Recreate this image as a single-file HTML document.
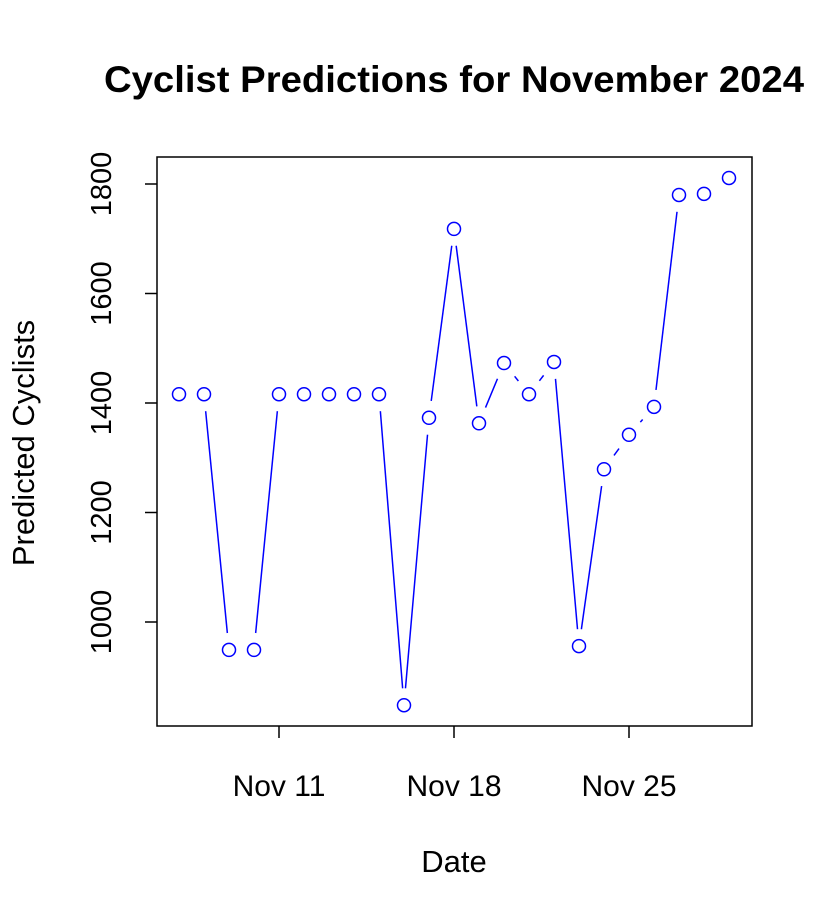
<!DOCTYPE html>
<html><head><meta charset="utf-8"><style>
html,body{margin:0;padding:0;background:#fff;}
svg{display:block;font-family:"Liberation Sans",Arial,sans-serif;}
</style></head><body>
<svg id="chart" width="832" height="922" viewBox="0 0 832 922">
<text x="454" y="92" text-anchor="middle" font-size="37" font-weight="bold" textLength="700" lengthAdjust="spacingAndGlyphs">Cyclist Predictions for November 2024</text>
<rect x="157" y="157" width="595" height="569" fill="none" stroke="#000" stroke-width="1.5"/>
<text x="454" y="872" text-anchor="middle" font-size="31">Date</text>
<text transform="translate(34,443) rotate(-90)" text-anchor="middle" font-size="31">Predicted Cyclists</text>
<g id="axes"></g>
<g id="lines"></g>
<g id="points"></g>
</svg>
<script>
const days = [7,8,9,10,11,12,13,14,15,16,17,18,19,20,21,22,23,24,25,26,27,28,29];
const values = [1416,1416,949,949,1416,1416,1416,1416,1416,848,1373,1718,1363,1473,1416,1475,956,1279,1342,1393,1780,1782,1811];
const yTicks = [1000,1200,1400,1600,1800];
const xTickDays = [11,18,25];
const xTickLabels = ["Nov 11","Nov 18","Nov 25"];

const NS="http://www.w3.org/2000/svg";
function xs(d){return 279+(d-11)*25;}
function ys(v){return 622-(v-1000)*(438/800);}
function mk(tag,attrs,parent){const e=document.createElementNS(NS,tag);for(const k in attrs)e.setAttribute(k,attrs[k]);document.getElementById(parent).appendChild(e);return e;}

yTicks.forEach(t=>{
  const y=ys(t);
  const l=mk('line',{x1:145,x2:157,y1:y,y2:y,stroke:'#000','stroke-width':1.5},'axes');
  
  
  const tx=mk('text',{transform:`translate(111,${y}) rotate(-90)`,'text-anchor':'middle','font-size':29},'axes');
  tx.textContent=t;
  
  
});
xTickDays.forEach((d,i)=>{
  const x=xs(d);
  const l=mk('line',{x1:x,x2:x,y1:726,y2:738,stroke:'#000','stroke-width':1.5},'axes');
  
  
  const tx=mk('text',{x:x,y:796,'text-anchor':'middle','font-size':30},'axes');
  tx.textContent=xTickLabels[i];
  
  
});
const gap=17;
for(let i=0;i<days.length-1;i++){
  const x1=xs(days[i]),y1=ys(values[i]),x2=xs(days[i+1]),y2=ys(values[i+1]);
  const dx=x2-x1,dy=y2-y1,len=Math.hypot(dx,dy);
  if(len<=2*gap)continue;
  const ux=dx/len,uy=dy/len;
  const l=mk('line',{x1:x1+ux*gap,y1:y1+uy*gap,x2:x2-ux*gap,y2:y2-uy*gap,stroke:'#0000ff','stroke-width':1.5},'lines');
  
  
}
days.forEach((d,i)=>{
  const c=mk('circle',{cx:xs(d),cy:ys(values[i]),r:6.5,fill:'#fff',stroke:'#0000ff','stroke-width':1.5},'points');
  
  
});
</script>
</body></html>
